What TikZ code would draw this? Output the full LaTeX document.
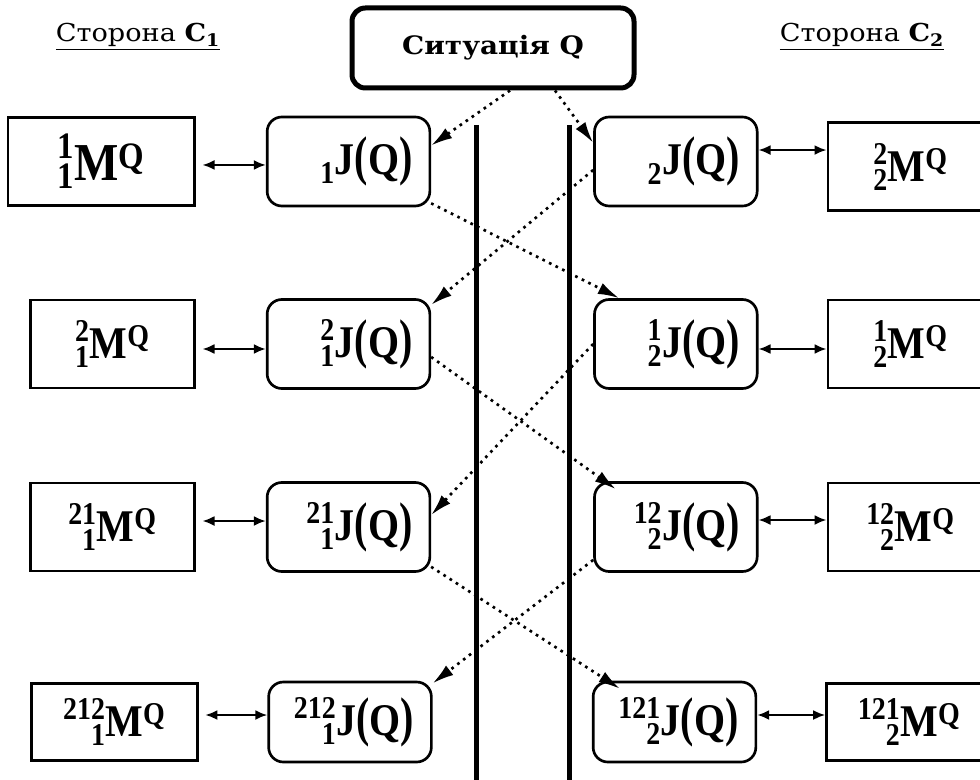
\documentclass[tikz,border=0pt]{standalone}
\usepackage{fontspec}
\usepackage{mathtools}
\setmainfont{Liberation Serif}
\newfontfamily\bookfont{DejaVu Serif}
\usetikzlibrary{arrows.meta,positioning}
\newcommand{\squeeze}[1]{\scalebox{0.88}[1]{#1}}
\newcommand{\widen}[1]{\scalebox{1.1}[1]{#1}}
\newcommand{\tp}[1]{\scalebox{1}[1.2]{#1}}
\newcommand{\jq}[2]{\squeeze{$\prescript{\text{#1}}{\text{#2}}{\text{J}}$\tp{(}Q\tp{)}}}
\newcommand{\mq}[2]{\squeeze{$\prescript{\text{#1}}{\text{#2}}{\text{M}}^{\text{Q}}$}}

\begin{document}
\begin{tikzpicture}[
  x=0.75pt, y=-0.75pt,
  big/.style={font=\fontsize{34}{36}\selectfont\bfseries},
  jbox/.style={big, draw, line width=2pt, rounded corners=11pt, inner sep=0pt,
               minimum width=122pt, minimum height=66.75pt, text width=96pt, align=right},
  mbox/.style={big, draw, line width=2pt, inner sep=0pt,
               minimum width=123pt, minimum height=66pt},
  sitbox/.style={draw, line width=3.75pt, rounded corners=10pt,
                 minimum width=211.5pt, minimum height=60pt,
                 font=\fontsize{19}{22}\bookfont\bfseries},
  side/.style={font=\fontsize{18.5}{22}\bookfont},
  dbl/.style={{Latex[length=9pt,width=7.5pt]}-{Latex[length=9pt,width=7.5pt]}, line width=1.6pt},
  cross/.style={-{Latex[length=16pt,width=9pt]}, line width=2pt,
                dash pattern=on 2pt off 3.5pt},
  wall/.style={line width=3.75pt},
  ]
  \useasboundingbox (0,0) rectangle (980,780);

  % header
  \node[sitbox] (sit) at (493,48) {\widen{Ситуація Q}};
  \node[side] (sd1) at (138,37) {\widen{\underline{Сторона \textbf{C\textsubscript{1}}}}};
  \node[side] (sd2) at (862,37) {\widen{\underline{Сторона \textbf{C\textsubscript{2}}}}};

  % walls
  \coordinate (w1t) at (476,125);
  \coordinate (w1b) at (476,780);
  \coordinate (w2t) at (569,125);
  \coordinate (w2b) at (569,780);
  \draw[wall] (w1t) -- (w1b);
  \draw[wall] (w2t) -- (w2b);

  % side C1
  \node[jbox] (jl1) at (348.5,161.5) {\jq{}{1}};
  \node[jbox] (jl2) at (348.5,344) {\jq{2}{1}};
  \node[jbox] (jl3) at (348.5,527) {\jq{21}{1}};
  \node[jbox, minimum height=60pt] (jl4) at (350,722) {\jq{212}{1}};
  \node[mbox, minimum width=140pt, font=\fontsize{40}{42}\selectfont\bfseries, left=52.5pt of jl1] (ml1) {\mq{1}{1}};
  \node[mbox, left=52.5pt of jl2] (ml2) {\mq{2}{1}};
  \node[mbox, left=52.5pt of jl3] (ml3) {\mq{21}{1}};
  \node[mbox, minimum width=124.5pt, minimum height=57.75pt, left=51.5pt of jl4] (ml4) {\mq{212}{1}};

  % side C2
  \node[jbox, right=121.5pt of jl1] (jr1) {\jq{}{2}};
  \node[jbox, right=121.5pt of jl2] (jr2) {\jq{1}{2}};
  \node[jbox, right=121.5pt of jl3] (jr3) {\jq{12}{2}};
  \node[jbox, minimum height=60pt] (jr4) at (674.5,722) {\jq{121}{2}};
  \node[mbox, minimum width=124pt, right=51pt of jr1, yshift=-4pt] (mr1) {\mq{2}{2}};
  \node[mbox, minimum width=124pt, right=51pt of jr2] (mr2) {\mq{1}{2}};
  \node[mbox, minimum width=124pt, right=51pt of jr3] (mr3) {\mq{12}{2}};
  \node[mbox, minimum width=124pt, minimum height=57.75pt, right=51pt of jr4] (mr4) {\mq{121}{2}};

  % links model <-> judgement
  \draw[dbl, shorten <=5pt] ([yshift=-2.6pt]ml1.east) -- ([yshift=-2.6pt]jl1.west);
  \draw[dbl, shorten <=5pt] ([yshift=-3.75pt]ml2.east) -- ([yshift=-3.75pt]jl2.west);
  \draw[dbl, shorten <=5pt] ([yshift=4.5pt]ml3.east) -- ([yshift=4.5pt]jl3.west);
  \draw[dbl, shorten <=5pt] ([yshift=5.25pt]ml4.east) -- ([yshift=5.25pt]jl4.west);
  \draw[dbl] ([yshift=8.6pt]jr1.east) -- ([yshift=8.6pt]jr1.east -| mr1.west);
  \draw[dbl] ([yshift=-3.75pt]jr2.east) -- ([yshift=-3.75pt]mr2.west);
  \draw[dbl] ([yshift=5.25pt]jr3.east) -- ([yshift=5.25pt]mr3.west);
  \draw[dbl] ([yshift=5.25pt]jr4.east) -- ([yshift=5.25pt]mr4.west);

  % reflexive crossings
  \draw[cross] ([xshift=12.75pt]sit.south) -- ([yshift=12pt]jl1.east);
  \draw[cross] ([xshift=46.5pt]sit.south) -- ([yshift=14pt]jr1.west);
  \draw[cross] ([yshift=3pt]jl1.south east) -- ([xshift=19.5pt]jr2.north west);
  \draw[cross] ([yshift=-6.4pt]jr1.west) -- ([yshift=-5pt]jl2.north east);
  \draw[cross] ([yshift=-9.75pt]jl2.east) -- ([xshift=17pt,yshift=-6pt]jr3.north west);
  \draw[cross] (jr2.west) -- ([yshift=9pt]jl3.east);
  \draw[cross] ([yshift=4.5pt]jl3.south east) -- ([xshift=21pt,yshift=-6pt]jr4.north west);
  \draw[cross] ([yshift=-24.75pt]jr3.west) -- ([yshift=-2pt]jl4.north east);
\end{tikzpicture}
\end{document}
